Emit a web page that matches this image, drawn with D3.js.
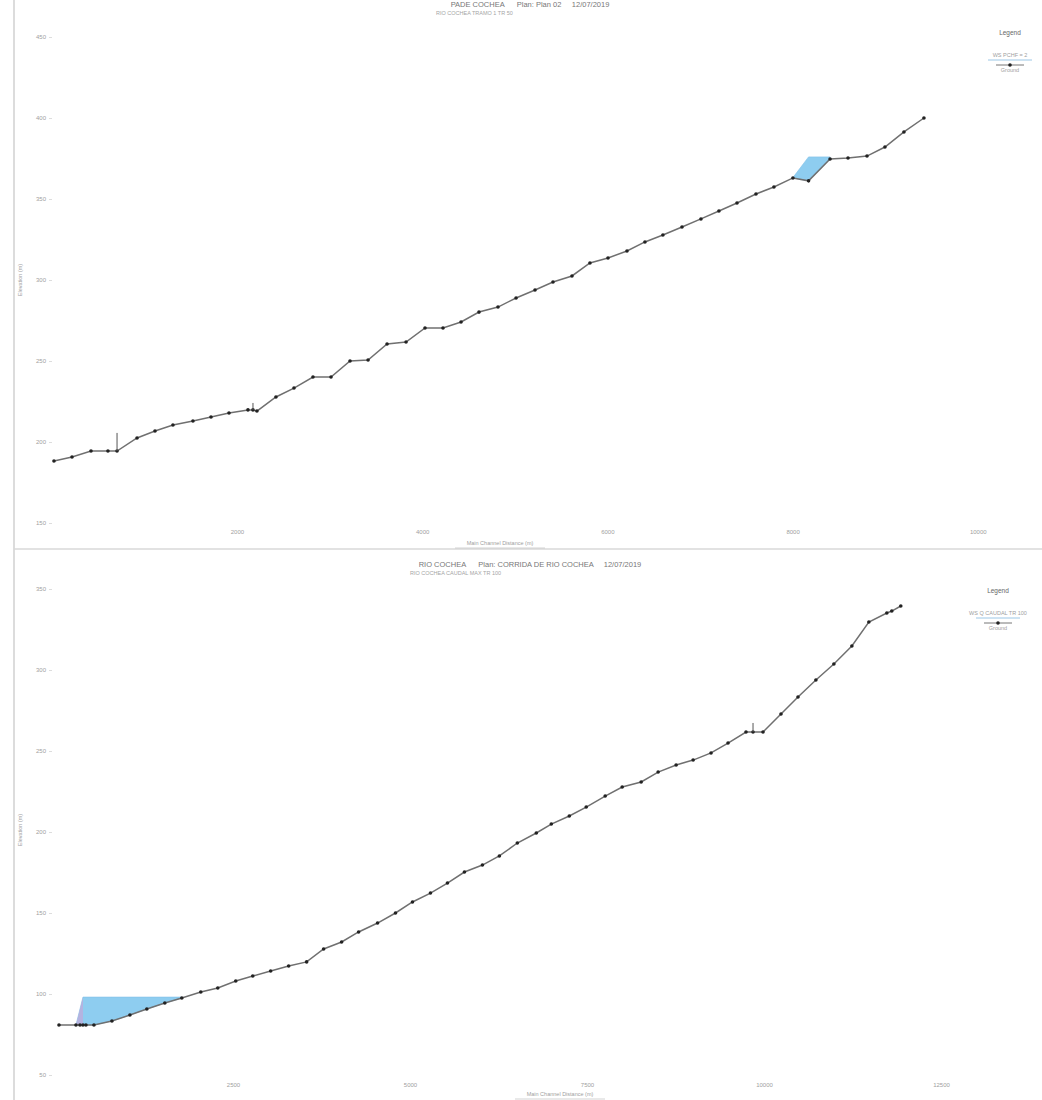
<!DOCTYPE html>
<html><head><meta charset="utf-8">
<script src="https://cdn.jsdelivr.net/npm/d3@7"></script>
<style>body{margin:0;background:#fff;}svg{display:block;font-family:"Liberation Sans",Arial,sans-serif;}</style>
</head><body><svg id="c" width="1042" height="1100"></svg>
<script>
// ---- Top chart: PADE COCHEA ----
const topStations = [24,219,424,607,705,921,1115,1309,1525,1720,1914,2119,2173,2216,2421,2616,2821,3016,3221,3416,3621,3826,4031,4225,4420,4614,4819,5014,5219,5413,5618,5812,6007,6212,6406,6600,6806,7011,7205,7400,7605,7799,8004,8173,8405,8599,8804,8998,9203,9419];
const topGround = [188.3,190.7,194.4,194.4,194.4,202.5,206.8,210.5,213.0,215.4,217.9,219.8,219.8,219.1,227.8,233.3,240.1,240.1,250.0,250.6,260.5,261.7,270.4,270.4,274.1,280.2,283.3,288.9,293.8,298.8,302.5,310.5,313.6,317.9,323.5,327.8,332.7,337.7,342.6,347.5,353.1,357.4,363.0,361.2,374.7,375.3,376.5,382.1,391.4,400.0];
const topWsStations = [8004,8173,8405];
const topWs = [363.2,376.0,376.0];
const topStructures = [[705,194.4,205.6],[2173,219.8,224.1]];
const topXTicks = [2000,4000,6000,8000,10000];
const topYTicks = [150,200,250,300,350,400,450];

// ---- Bottom chart: RIO COCHEA ----
const botStations = [42,282,339,381,423,536,790,1044,1283,1537,1777,2045,2285,2539,2779,3032,3286,3540,3780,4034,4274,4542,4795,5035,5289,5529,5769,6023,6262,6516,6784,6996,7250,7489,7757,7997,8265,8505,8759,8999,9252,9492,9746,9845,9986,10240,10480,10733,10987,11241,11481,11735,11805,11932];
const botGround = [80.9,80.9,80.9,80.9,80.9,80.9,83.3,87.0,90.7,94.4,97.5,101.2,103.7,108.0,111.1,114.2,117.3,119.8,127.8,132.1,138.3,143.8,150.0,156.8,162.3,168.5,175.3,179.6,185.2,193.2,199.4,204.9,209.9,215.4,222.2,227.8,230.9,237.0,241.4,244.4,248.8,254.9,261.7,261.7,261.7,272.8,283.3,293.8,303.7,314.8,329.6,335.2,336.4,339.5];
const botWsStations = [282,381,423,536,790,1044,1283,1537,1777];
const botWs = [80.9,98.1,98.1,98.1,98.1,98.1,98.1,98.1,98.1];
const botStructures = [[9845,261.7,267.3]];
const botXTicks = [2500,5000,7500,10000,12500];
const botYTicks = [50,100,150,200,250,300,350];

const svg = d3.select("#c");
const grey = "#a0a0a0";

// frame lines
svg.append("line").attr("x1",14).attr("x2",14).attr("y1",0).attr("y2",1100).attr("stroke","#d0d0d0").attr("stroke-width",1.5);
svg.append("line").attr("x1",14).attr("x2",1042).attr("y1",549).attr("y2",549).attr("stroke","#d8d8d8").attr("stroke-width",1.5);

function panel(cfg){
  const g = svg.append("g");
  const x = d3.scaleLinear().domain(cfg.xDomain).range(cfg.xRange);
  const y = d3.scaleLinear().domain(cfg.yDomain).range(cfg.yRange);

  // titles
  g.append("text").attr("x",cfg.titleX).attr("y",cfg.titleY).attr("text-anchor","middle")
    .attr("font-size",7.5).attr("fill","#777").attr("xml:space","preserve").text(cfg.title);
  g.append("text").attr("x",cfg.subX).attr("y",cfg.titleY+8).attr("text-anchor","start")
    .attr("font-size",5.5).attr("fill","#a5a5a5").text(cfg.subtitle);

  // axes
  const xa = g.append("g").attr("transform",`translate(0,${cfg.xAxisY})`)
    .call(d3.axisBottom(x).tickValues(cfg.xTicks).tickSize(0).tickFormat(d3.format("d")));
  xa.select(".domain").remove();
  xa.selectAll("text").attr("font-size",6).attr("fill",grey);
  const ya = g.append("g").attr("transform",`translate(${cfg.yAxisX},0)`)
    .call(d3.axisLeft(y).tickValues(cfg.yTicks).tickSize(3).tickPadding(3).tickFormat(d3.format("d")));
  ya.select(".domain").remove();
  ya.selectAll("line").attr("stroke","#ddd");
  ya.selectAll("text").attr("font-size",6).attr("fill",grey);

  g.append("text").attr("x",cfg.xTitleX).attr("y",cfg.xTitleY).attr("text-anchor","middle")
    .attr("font-size",5.5).attr("fill",grey).text("Main Channel Distance (m)");
  g.append("line").attr("x1",cfg.xTitleX-45).attr("x2",cfg.xTitleX+45).attr("y1",cfg.xTitleY+3).attr("y2",cfg.xTitleY+3).attr("stroke","#c8c8c8").attr("stroke-width",0.8);
  g.append("text").attr("transform",`translate(22,${cfg.yTitleY}) rotate(-90)`).attr("text-anchor","middle")
    .attr("font-size",5.5).attr("fill",grey).text("Elevation (m)");

  // water fill
  const ground = cfg.stations.map((s,i)=>[s,cfg.ground[i]]);
  const wsPts = cfg.wsStations.map((s,i)=>[s,cfg.ws[i]]);
  const groundAt = s => { const i = cfg.stations.indexOf(s); return cfg.ground[i]; };
  const area = d3.area().x(d=>x(d[0])).y0(d=>y(groundAt(d[0]))).y1(d=>y(d[1]));
  g.append("path").datum(wsPts).attr("d",area).attr("fill","#8ecdf0").attr("stroke","#7fc0e8").attr("stroke-width",0.6);
  if (cfg.wallShade) {
    const w = wsPts.slice(0,2);
    g.append("path").datum(w).attr("d",area).attr("fill","#c4a8d8").attr("opacity",0.7);
  }

  // ground line
  const line = d3.line().x(d=>x(d[0])).y(d=>y(d[1]));
  g.append("path").datum(ground).attr("d",line).attr("fill","none").attr("stroke","#707070").attr("stroke-width",1.5);
  g.selectAll("circle.pt").data(ground).enter().append("circle")
    .attr("cx",d=>x(d[0])).attr("cy",d=>y(d[1])).attr("r",1.8).attr("fill","#222");

  // structures
  g.selectAll("line.st").data(cfg.structures).enter().append("line")
    .attr("x1",d=>x(d[0])).attr("x2",d=>x(d[0])).attr("y1",d=>y(d[1])).attr("y2",d=>y(d[2]))
    .attr("stroke","#555").attr("stroke-width",1);

  // legend
  const L = cfg.legend;
  g.append("text").attr("x",L.x).attr("y",L.y).attr("text-anchor","middle").attr("font-size",6.5).attr("fill","#666").text("Legend");
  g.append("text").attr("x",L.x).attr("y",L.y+22).attr("text-anchor","middle").attr("font-size",5.5).attr("fill",grey).text(L.ws);
  g.append("line").attr("x1",L.x-22).attr("x2",L.x+22).attr("y1",L.y+25).attr("y2",L.y+25).attr("stroke","#9cc7e6").attr("stroke-width",1);
  g.append("line").attr("x1",L.x-14).attr("x2",L.x+14).attr("y1",L.y+30).attr("y2",L.y+30).attr("stroke","#777").attr("stroke-width",1);
  g.append("circle").attr("cx",L.x).attr("cy",L.y+30).attr("r",1.8).attr("fill","#222");
  g.append("text").attr("x",L.x).attr("y",L.y+37).attr("text-anchor","middle").attr("font-size",5.5).attr("fill",grey).text("Ground");
}

panel({
  xDomain:[0,10000], xRange:[51.75,977.75],
  yDomain:[150,450], yRange:[523,37],
  stations:topStations, ground:topGround, wsStations:topWsStations, ws:topWs, structures:topStructures,
  xTicks:topXTicks, yTicks:topYTicks, xAxisY:527, yAxisX:52,
  title:"PADE COCHEA      Plan: Plan 02     12/07/2019", titleX:530, titleY:7, subX:436,
  subtitle:"RIO COCHEA TRAMO 1  TR 50",
  xTitleX:500, xTitleY:545, yTitleY:280,
  legend:{x:1010,y:35, ws:"WS  PCHF = 2"}, wallShade:false
});
panel({
  xDomain:[0,12500], xRange:[56,941],
  yDomain:[50,350], yRange:[1075,589],
  stations:botStations, ground:botGround, wsStations:botWsStations, ws:botWs, structures:botStructures,
  xTicks:botXTicks, yTicks:botYTicks, xAxisY:1080, yAxisX:52,
  title:"RIO COCHEA      Plan: CORRIDA DE RIO COCHEA     12/07/2019", titleX:530, titleY:567, subX:410,
  subtitle:"RIO COCHEA CAUDAL MAX TR 100",
  xTitleX:560, xTitleY:1096, yTitleY:830,
  legend:{x:998,y:593, ws:"WS  Q CAUDAL TR 100"}, wallShade:true
});
</script></body></html>
